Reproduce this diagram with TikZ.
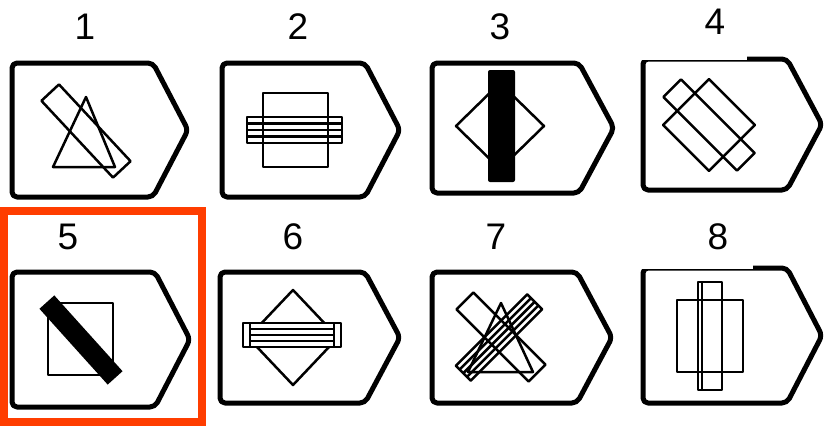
\documentclass[tikz,border=0pt]{standalone}
\usepackage{fontspec}
\setmainfont{Liberation Sans}
\definecolor{frame}{RGB}{255,61,0}
\newcommand{\tagpanel}[4]{\draw[tagline] (#1,#2) -- ({#3-35},#2) -- (#3,{(#2+#4)/2}) -- ({#3-35},#4) -- (#1,#4) -- cycle;}
\begin{document}
\begin{tikzpicture}[x=1pt,y=-1pt,
  tagline/.style={line width=5pt, rounded corners=5pt, line join=round},
  fig/.style={line width=2.5pt, line join=round},
  lbl/.style={font=\fontsize{37}{40}\selectfont, inner sep=0pt, anchor=center}]
\useasboundingbox (0,0) rectangle (825,426);
\fill[white] (0,0) rectangle (825,426);
% panel outlines
\tagpanel{12}{63}{188}{197}
\tagpanel{222}{63}{400}{197}
\tagpanel{432}{63}{614}{193}
\tagpanel{643}{59}{822}{190}
\tagpanel{12}{272}{190}{407}
\tagpanel{220}{272}{400}{403}
\tagpanel{432}{272}{612}{403}
\tagpanel{643}{268}{822}{403}
% partial cut-outs over top edges of panels 4 and 8
\fill[white] (630,0) rectangle (747,59.5);
\fill[white] (630,230) rectangle (753,268.5);
% labels
\node[lbl] (l1) at (85,27) {1};
\node[lbl] (l2) at (298,27) {2};
\node[lbl] (l3) at (500,27) {3};
\node[lbl] (l4) at (715,22) {4};
\node[lbl] (l5) at (68,237) {5};
\node[lbl] (l6) at (293,237) {6};
\node[lbl] (l7) at (496,237) {7};
\node[lbl] (l8) at (718,237) {8};
% red frame
\draw[frame, line width=8pt] (4,211) rectangle (202,422);
% panel 1
\draw[fig] (86,97) -- (115,167) -- (53,167) -- cycle;
\begin{scope}[shift={(86,131)}, rotate=-47]
  \draw[fig] (-52.5,-12) rectangle (52.5,12);
\end{scope}
% panel 2
\draw[fig] (263,93) rectangle (328,167);
\draw[fig] (247,117) rectangle (342,143);
\foreach \yy in {123.5,130,136.5} \draw[fig] (247,\yy) -- (342,\yy);
% panel 3
\draw[fig] (456,126) -- (500,83) -- (544,126) -- (500,169) -- cycle;
\fill[rounded corners=2pt] (488,70) rectangle (515,182);
% panel 4
\begin{scope}[shift={(709,125)}, rotate=-45]
  \draw[fig] (-32.5,-32.5) rectangle (32.5,32.5);
  \draw[fig] (-52,-12.5) rectangle (52,12.5);
\end{scope}
% panel 5
\draw[fig] (48,303) rectangle (113,375);
\begin{scope}[shift={(81,340)}, rotate=-48]
  \fill (-51,-10) rectangle (51,10);
\end{scope}
% panel 6
\draw[fig] (248,337.5) -- (293,290) -- (338,337.5) -- (293,385) -- cycle;
\filldraw[fig, fill=white] (243,323) rectangle (341,347);
\draw[fig] (250,323) -- (250,347);
\draw[fig] (334,323) -- (334,347);
\foreach \yy in {329,335,341} \draw[fig] (250,\yy) -- (334,\yy);
% panel 7
\draw[fig] (501,303) -- (533,372) -- (468,372) -- cycle;
\begin{scope}[shift={(501,337)}, rotate=-45]
  \draw[fig] (-51,-12) rectangle (51,12);
\end{scope}
\begin{scope}[shift={(499,337.5)}, rotate=45]
  \draw[fig] (-50.5,-10.5) rectangle (50.5,10.5);
  \foreach \yy in {-5.25,0,5.25} \draw[fig] (-50.5,\yy) -- (50.5,\yy);
\end{scope}
% panel 8
\draw[fig] (677,300) rectangle (743,372);
\draw[fig] (698,282) rectangle (722,390);
\draw[fig] (702,282) -- (702,390);
\end{tikzpicture}
\end{document}
